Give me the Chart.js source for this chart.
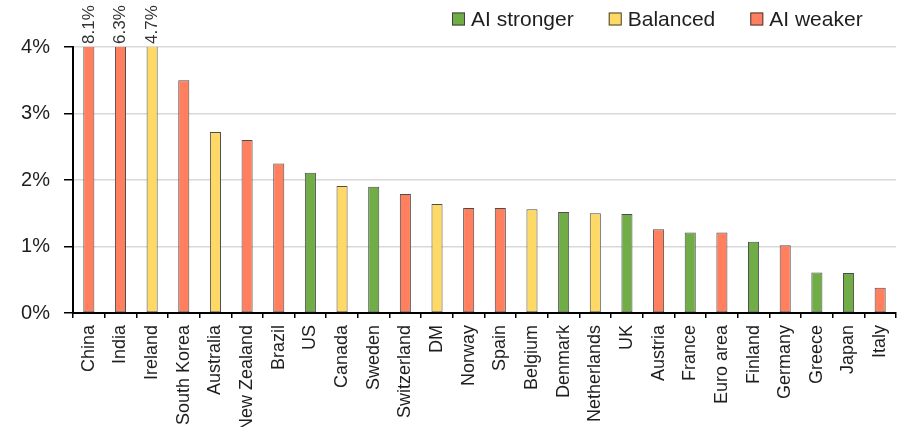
<!DOCTYPE html>
<html>
<head>
<meta charset="utf-8">
<script src="https://cdn.jsdelivr.net/npm/chart.js@4/dist/chart.umd.min.js"></script>
<style>
  html, body { margin: 0; padding: 0; background: #fff; }
  #wrap { width: 905px; height: 427px; position: relative; }
</style>
</head>
<body>
<div id="wrap"><canvas id="c" width="905" height="427"></canvas></div>
<script>
const categories = ["China","India","Ireland","South Korea","Australia","New Zealand","Brazil","US","Canada","Sweden","Switzerland","DM","Norway","Spain","Belgium","Denmark","Netherlands","UK","Austria","France","Euro area","Finland","Germany","Greece","Japan","Italy"];
const values = [8.1,6.3,4.7,3.5,2.72,2.6,2.25,2.11,1.91,1.9,1.79,1.64,1.58,1.58,1.56,1.52,1.5,1.49,1.26,1.21,1.21,1.07,1.02,0.61,0.6,0.38];
const groups = ["weaker","weaker","balanced","weaker","balanced","weaker","weaker","stronger","balanced","stronger","weaker","balanced","weaker","weaker","balanced","stronger","balanced","stronger","weaker","stronger","weaker","stronger","weaker","stronger","stronger","weaker"];
const groupKeys = ["stronger","balanced","weaker"];
const groupLabels = ["AI stronger","Balanced","AI weaker"];
const groupColors = {stronger:"#70AD47", balanced:"#FFD966", weaker:"#FF7F5E"};
const yTicks = [0,1,2,3,4];
const yMax = 4;

const FONT = "'Liberation Sans', Arial, sans-serif";
const TXT = "#1e1e1e";

const overflowLabels = {
  id: "overflowLabels",
  afterDatasetsDraw(chart) {
    const ctx = chart.ctx;
    const meta = chart.getDatasetMeta(0);
    ctx.save();
    ctx.font = "17px " + FONT;
    ctx.fillStyle = "#333";
    ctx.textAlign = "left";
    ctx.textBaseline = "middle";
    values.forEach((v, i) => {
      if (v > yMax) {
        const bar = meta.data[i];
        ctx.save();
        ctx.translate(bar.x, chart.chartArea.top - 3);
        ctx.rotate(-Math.PI / 2);
        ctx.fillText(v.toFixed(1) + "%", 0, 0);
        ctx.restore();
      }
    });
    ctx.restore();
  }
};

const customLegend = {
  id: "customLegend",
  afterDraw(chart) {
    const ctx = chart.ctx;
    ctx.save();
    ctx.font = "21px " + FONT;
    ctx.textBaseline = "middle";
    ctx.textAlign = "left";
    let x = 452;
    const cy = 19;
    groupKeys.forEach((k, i) => {
      ctx.fillStyle = groupColors[k];
      ctx.fillRect(x, cy - 6.5, 13, 13);
      ctx.strokeStyle = "#404040";
      ctx.lineWidth = 1;
      ctx.strokeRect(x + 0.5, cy - 6, 12, 12);
      ctx.fillStyle = TXT;
      ctx.fillText(groupLabels[i], x + 19, cy + 1);
      x += 19 + ctx.measureText(groupLabels[i]).width + 35;
    });
    ctx.restore();
  }
};

new Chart(document.getElementById("c"), {
  type: "bar",
  data: {
    labels: categories,
    datasets: [{
      data: values,
      backgroundColor: groups.map(g => groupColors[g]),
      borderColor: "#4d4d4d",
      borderWidth: 1,
      borderSkipped: false,
      barPercentage: 0.35,
      categoryPercentage: 1.0
    }]
  },
  options: {
    responsive: false,
    animation: false,
    layout: { padding: { top: 47, right: 9, left: 0, bottom: 0 } },
    plugins: {
      legend: { display: false },
      tooltip: { enabled: false }
    },
    scales: {
      x: {
        grid: { display: true, offset: true, drawOnChartArea: false, tickLength: 5, color: "#000", lineWidth: 1.5 },
        border: { display: true, color: "#000", width: 2 },
        ticks: {
          autoSkip: false, maxRotation: 90, minRotation: 90, padding: 7,
          color: TXT, font: { family: FONT, size: 18 }
        },
        afterFit(scale) { scale.height = 114; scale.paddingRight = 0; scale.paddingLeft = 0; }
      },
      y: {
        min: 0, max: yMax,
        afterBuildTicks(scale) { scale.ticks = yTicks.map(v => ({ value: v })); },
        grid: { color: "#d9d9d9", lineWidth: 1.5, tickLength: 9, tickColor: "#000" },
        border: { display: true, color: "#000", width: 2 },
        ticks: {
          padding: 14, color: TXT, font: { family: FONT, size: 20 },
          callback: v => v + "%"
        },
        afterFit(scale) { scale.width = 73; }
      }
    }
  },
  plugins: [overflowLabels, customLegend]
});
</script>
</body>
</html>
